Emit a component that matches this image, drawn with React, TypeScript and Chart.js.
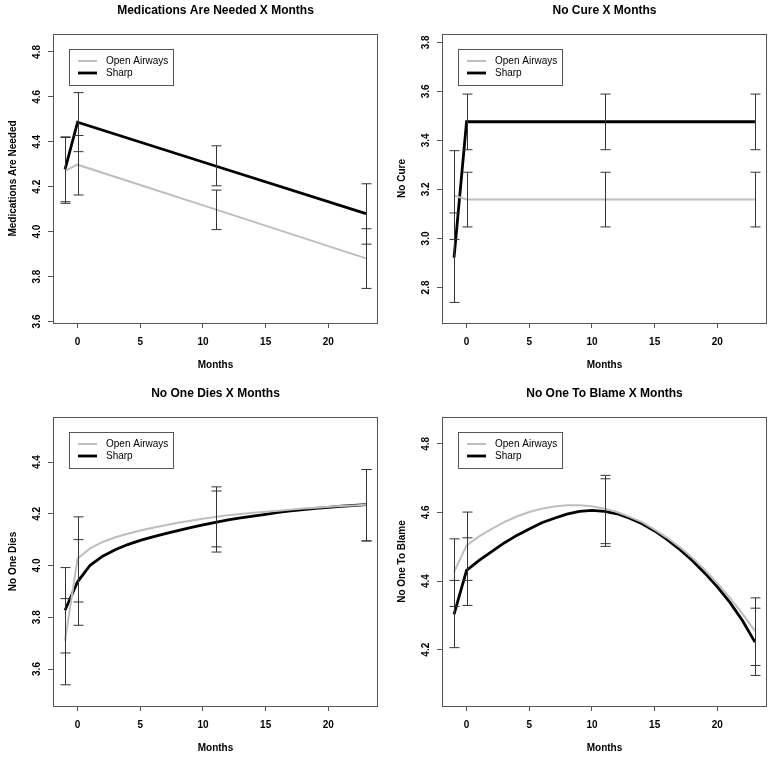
import React, { useEffect, useRef } from "react";
import { Chart, registerables } from "chart.js";

Chart.register(...registerables);

const FONT = '"Liberation Sans", Arial, Helvetica, sans-serif';

// ---------- shared ----------
const xTicks = [0, 5, 10, 15, 20];
const ebMonths = [-1, 0, 11, 23];
const lineMonthsShort = [-1, 0, 11, 23];
const lineMonthsLong = [-1, 0, 1, 2, 3, 4, 5, 6, 7, 8, 9, 10, 11, 12, 13, 14, 15, 16, 17, 18, 19, 20, 21, 22, 23];
const seriesNames = ["Open Airways", "Sharp"];

// ---------- Medications Are Needed ----------
const medTitle = "Medications Are Needed X Months";
const medYLabel = "Medications Are Needed";
const medYTicks = [3.6, 3.8, 4.0, 4.2, 4.4, 4.6, 4.8];
const medYRange = [3.593, 4.88];
const medOpen = [4.271, 4.298, 4.099, 3.881];
const medSharp = [4.277, 4.487, 4.292, 4.08];
const medOpenLo = [4.126, 4.163, 4.009, 3.747];
const medOpenHi = [4.419, 4.428, 4.185, 4.013];
const medSharpLo = [4.133, 4.356, 4.204, 3.944];
const medSharpHi = [4.422, 4.619, 4.382, 4.213];

// ---------- No Cure ----------
const cureTitle = "No Cure X Months";
const cureYLabel = "No Cure";
const cureYTicks = [2.8, 3.0, 3.2, 3.4, 3.6, 3.8];
const cureYRange = [2.655, 3.834];
const cureOpen = [3.175, 3.159, 3.159, 3.159];
const cureSharp = [2.922, 3.476, 3.476, 3.476];
const cureOpenLo = [2.996, 3.047, 3.047, 3.047];
const cureOpenHi = [3.358, 3.27, 3.27, 3.27];
const cureSharpLo = [2.739, 3.362, 3.362, 3.362];
const cureSharpHi = [3.104, 3.589, 3.589, 3.589];

// ---------- No One Dies ----------
const diesTitle = "No One Dies X Months";
const diesYLabel = "No One Dies";
const diesYTicks = [3.6, 3.8, 4.0, 4.2, 4.4];
const diesYRange = [3.457, 4.574];
const diesOpen = [3.71, 4.027, 4.066, 4.091, 4.109, 4.123, 4.135, 4.146, 4.156, 4.165, 4.173, 4.181, 4.188, 4.194, 4.199, 4.204, 4.208, 4.212, 4.216, 4.22, 4.223, 4.227, 4.23, 4.232, 4.235];
const diesSharp = [3.827, 3.937, 4.001, 4.036, 4.061, 4.081, 4.097, 4.111, 4.123, 4.135, 4.146, 4.157, 4.167, 4.176, 4.184, 4.191, 4.198, 4.205, 4.211, 4.216, 4.221, 4.225, 4.229, 4.232, 4.235];
const diesOpenLo = [3.539, 3.859, 4.072, 4.095];
const diesOpenHi = [3.872, 4.188, 4.304, 4.371];
const diesSharpLo = [3.662, 3.769, 4.052, 4.095];
const diesSharpHi = [3.992, 4.1, 4.288, 4.371];

// ---------- No One To Blame ----------
const blameTitle = "No One To Blame X Months";
const blameYLabel = "No One To Blame";
const blameYTicks = [4.2, 4.4, 4.6, 4.8];
const blameYRange = [4.036, 4.878];
const blameOpen = [4.426, 4.504, 4.53, 4.552, 4.572, 4.588, 4.601, 4.611, 4.617, 4.621, 4.621, 4.618, 4.611, 4.601, 4.587, 4.572, 4.55, 4.526, 4.499, 4.468, 4.433, 4.394, 4.351, 4.305, 4.254];
const blameSharp = [4.303, 4.431, 4.46, 4.486, 4.511, 4.533, 4.552, 4.57, 4.583, 4.595, 4.603, 4.606, 4.603, 4.596, 4.583, 4.567, 4.546, 4.521, 4.492, 4.46, 4.423, 4.383, 4.338, 4.285, 4.222];
const blameOpenLo = [4.326, 4.402, 4.509, 4.154];
const blameOpenHi = [4.523, 4.601, 4.708, 4.351];
const blameSharpLo = [4.206, 4.329, 4.501, 4.125];
const blameSharpHi = [4.402, 4.526, 4.698, 4.321];

const panels = [
  { title: medTitle, yLabel: medYLabel, yTicks: medYTicks, yRange: medYRange, months: lineMonthsShort, open: medOpen, sharp: medSharp, openLo: medOpenLo, openHi: medOpenHi, sharpLo: medSharpLo, sharpHi: medSharpHi, left: 0, top: 0, height: 380 },
  { title: cureTitle, yLabel: cureYLabel, yTicks: cureYTicks, yRange: cureYRange, months: lineMonthsShort, open: cureOpen, sharp: cureSharp, openLo: cureOpenLo, openHi: cureOpenHi, sharpLo: cureSharpLo, sharpHi: cureSharpHi, left: 389, top: 0, height: 380 },
  { title: diesTitle, yLabel: diesYLabel, yTicks: diesYTicks, yRange: diesYRange, months: lineMonthsLong, open: diesOpen, sharp: diesSharp, openLo: diesOpenLo, openHi: diesOpenHi, sharpLo: diesSharpLo, sharpHi: diesSharpHi, left: 0, top: 383, height: 377 },
  { title: blameTitle, yLabel: blameYLabel, yTicks: blameYTicks, yRange: blameYRange, months: lineMonthsLong, open: blameOpen, sharp: blameSharp, openLo: blameOpenLo, openHi: blameOpenHi, sharpLo: blameSharpLo, sharpHi: blameSharpHi, left: 389, top: 383, height: 377 },
];

const OPEN_COLOR = "#bebebe";
const SHARP_COLOR = "#000000";
const AXIS_COLOR = "#555555";
const EB_COLOR = "#333333";

function PanelChart({ p }: { p: any }) {
  const ref = useRef<HTMLCanvasElement>(null);
  useEffect(() => {
    const decor = {
      id: "decor",
      afterDatasetsDraw(chart: any) {
        const { ctx, scales } = chart;
        const x = scales.x;
        const y = scales.y;
        ctx.save();
        ctx.strokeStyle = EB_COLOR;
        ctx.lineWidth = 1;
        const groups = [
          [p.openLo, p.openHi],
          [p.sharpLo, p.sharpHi],
        ];
        groups.forEach(([lo, hi]: any) => {
          ebMonths.forEach((m, i) => {
            const px = Math.round(x.getPixelForValue(m)) + 0.5;
            const y1 = y.getPixelForValue(lo[i]);
            const y2 = y.getPixelForValue(hi[i]);
            ctx.beginPath();
            ctx.moveTo(px, y1);
            ctx.lineTo(px, y2);
            ctx.moveTo(px - 5, y1);
            ctx.lineTo(px + 5, y1);
            ctx.moveTo(px - 5, y2);
            ctx.lineTo(px + 5, y2);
            ctx.stroke();
          });
        });
        ctx.restore();
      },
      afterDraw(chart: any) {
        const { ctx, chartArea: a, scales } = chart;
        const x = scales.x;
        const y = scales.y;
        ctx.save();
        // box
        ctx.strokeStyle = AXIS_COLOR;
        ctx.lineWidth = 1;
        ctx.strokeRect(a.left + 0.5, a.top + 0.5, a.right - a.left - 1, a.bottom - a.top);
        // title
        ctx.fillStyle = "#000";
        ctx.textAlign = "center";
        ctx.textBaseline = "middle";
        ctx.font = `bold 12px ${FONT}`;
        ctx.fillText(p.title, (a.left + a.right) / 2, 11);
        // tick labels
        ctx.font = `bold 10px ${FONT}`;
        x.ticks.forEach((t: any) => {
          ctx.fillText(String(t.value), x.getPixelForValue(t.value), a.bottom + 19);
        });
        y.ticks.forEach((t: any) => {
          ctx.save();
          ctx.translate(a.left - 16, y.getPixelForValue(t.value));
          ctx.rotate(-Math.PI / 2);
          ctx.fillText(Number(t.value).toFixed(1), 0, 0);
          ctx.restore();
        });
        // y axis title
        ctx.save();
        ctx.translate(a.left - 40, (a.top + a.bottom) / 2);
        ctx.rotate(-Math.PI / 2);
        ctx.fillText(p.yLabel, 0, 0);
        ctx.restore();
        // x axis title
        ctx.fillText("Months", (a.left + a.right) / 2, a.bottom + 42);
        // legend
        const lx = a.left + 16;
        const ly = a.top + 15;
        ctx.strokeStyle = AXIS_COLOR;
        ctx.strokeRect(lx + 0.5, ly + 0.5, 104, 36);
        const colors = [OPEN_COLOR, SHARP_COLOR];
        const widths = [2, 2.8];
        ctx.font = `10px ${FONT}`;
        ctx.textAlign = "left";
        seriesNames.forEach((name, i) => {
          const yy = ly + 12 + i * 12;
          ctx.strokeStyle = colors[i];
          ctx.lineWidth = widths[i];
          ctx.beginPath();
          ctx.moveTo(lx + 9, yy);
          ctx.lineTo(lx + 28, yy);
          ctx.stroke();
          ctx.fillStyle = "#000";
          ctx.fillText(name, lx + 37, yy);
        });
        ctx.restore();
      },
    };

    const chart = new Chart(ref.current as HTMLCanvasElement, {
      type: "line",
      data: {
        datasets: [
          {
            label: seriesNames[0],
            data: p.months.map((m: number, i: number) => ({ x: m, y: p.open[i] })),
            borderColor: OPEN_COLOR,
            borderWidth: 2,
            pointRadius: 0,
            tension: 0,
            fill: false,
          },
          {
            label: seriesNames[1],
            data: p.months.map((m: number, i: number) => ({ x: m, y: p.sharp[i] })),
            borderColor: SHARP_COLOR,
            borderWidth: 2.8,
            pointRadius: 0,
            tension: 0,
            fill: false,
          },
        ],
      },
      options: {
        animation: false,
        responsive: false,
        devicePixelRatio: 1,
        events: [],
        layout: { padding: { left: 53, right: 10, top: 34, bottom: p.height - 323 } },
        plugins: {
          legend: { display: false },
          title: { display: false },
          tooltip: { enabled: false },
        },
        scales: {
          x: {
            type: "linear",
            min: -1.96,
            max: 23.96,
            afterBuildTicks: (s: any) => {
              s.ticks = xTicks.map((v) => ({ value: v }));
            },
            afterFit: (s: any) => {
              s.height = 0;
            },
            grid: { drawOnChartArea: false, drawTicks: true, tickLength: 5, color: AXIS_COLOR, lineWidth: 1 },
            border: { display: false },
            ticks: { display: false },
          },
          y: {
            type: "linear",
            min: p.yRange[0],
            max: p.yRange[1],
            afterBuildTicks: (s: any) => {
              s.ticks = p.yTicks.map((v: number) => ({ value: v }));
            },
            afterFit: (s: any) => {
              s.width = 0;
            },
            grid: { drawOnChartArea: false, drawTicks: true, tickLength: 5, color: AXIS_COLOR, lineWidth: 1 },
            border: { display: false },
            ticks: { display: false },
          },
        },
      },
      plugins: [decor],
    } as any);
    return () => chart.destroy();
  }, [p]);

  return (
    <canvas
      ref={ref}
      width={388}
      height={p.height}
      style={{ position: "absolute", left: p.left, top: p.top, width: 388, height: p.height }}
    />
  );
}

export default function App() {
  return (
    <div style={{ position: "fixed", left: 0, top: 0, width: 776, height: 760, background: "#fff", overflow: "hidden" }}>
      {panels.map((p, i) => (
        <PanelChart key={i} p={p} />
      ))}
    </div>
  );
}
